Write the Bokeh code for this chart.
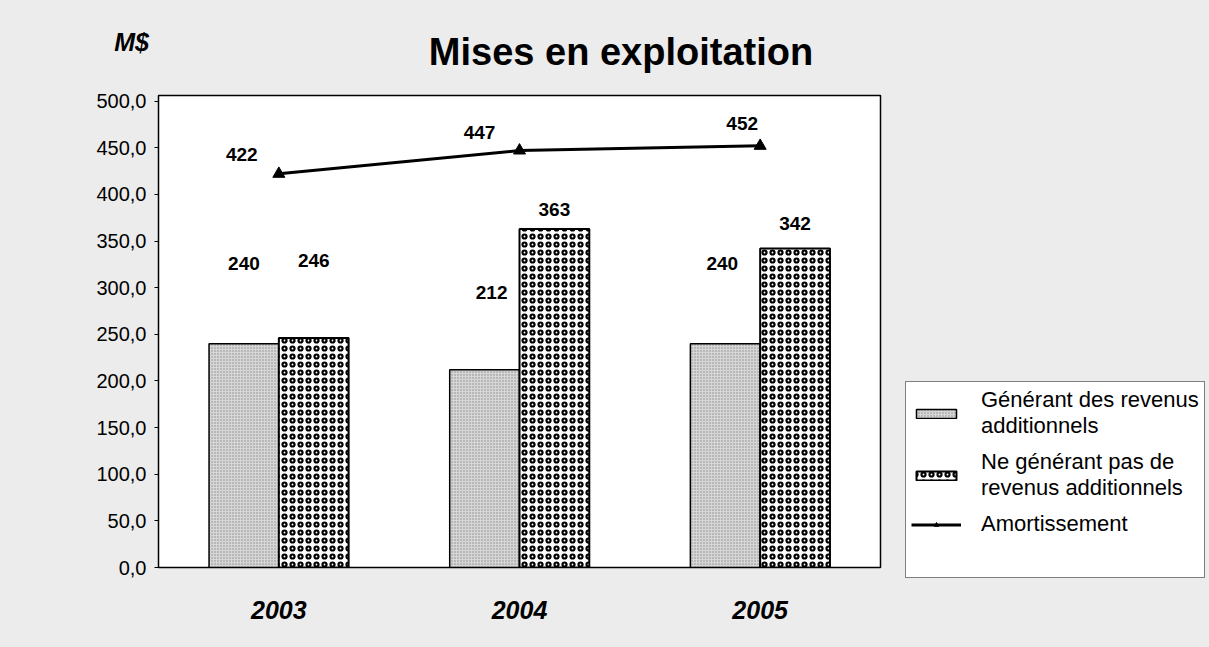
from bokeh.plotting import figure
from bokeh.layouts import column
from bokeh.models import (ColumnDataSource, FactorRange, Range1d, FixedTicker,
                          Legend, LegendItem, Div)
from bokeh.core.properties import value
from bokeh.transform import dodge
from bokeh.embed import file_html
from bokeh.resources import INLINE

# ---------------- data ----------------
years = ["2003", "2004", "2005"]
generant = [240, 212, 240]
non_generant = [246, 363, 342]
amortissement = [422, 447, 452]
y_ticks = [0, 50, 100, 150, 200, 250, 300, 350, 400, 450, 500]
y_tick_labels = ["0,0", "50,0", "100,0", "150,0", "200,0", "250,0",
                 "300,0", "350,0", "400,0", "450,0", "500,0"]
series_names = ["Générant des revenus\nadditionnels",
                "Ne générant pas de\nrevenus additionnels",
                "Amortissement"]
title_text = "Mises en exploitation"
unit_text = "M$"

# ---------------- styles ----------------
FONT = "Liberation Sans"
BG = "#ececec"
W = 1209
TOP_H = 88
gen_label_dy = [-80, -77, -80]
gen_label_dx = [0, 7, -3]
non_label_dy = [-78, -19, -25]
amo_label_dx = [-37, -40, -18]
amo_label_dy = [-19, -18, -22]

# ---------------- header (title + unit) ----------------
ff = "font-family:'Liberation Sans',Arial,sans-serif;color:black;line-height:1;white-space:nowrap;position:absolute;"
header_html = (
    f'<div style="position:relative;width:{W}px;height:{TOP_H + 2}px;background:{BG};overflow:hidden;margin:0;padding:0;">'
    f'<span style="{ff}left:621px;top:52px;transform:translate(-50%,-50%);'
    f'font-weight:bold;font-size:38px;">{title_text}</span>'
    f'<span style="{ff}right:{W - 149}px;top:42px;transform:translateY(-50%);'
    f'font-weight:bold;font-style:italic;font-size:25px;">{unit_text}</span>'
    '</div>'
)
header = Div(text=header_html, width=W, height=TOP_H, margin=0,
             styles={"background-color": BG})

# ---------------- main chart ----------------
src = ColumnDataSource(dict(
    years=years, gen=generant, non=non_generant, amo=amortissement,
    gen_lbl=[str(v) for v in generant],
    non_lbl=[str(v) for v in non_generant],
    amo_lbl=[str(v) for v in amortissement],
    gen_dy=gen_label_dy, gen_dx=gen_label_dx, non_dy=non_label_dy,
    amo_dx=amo_label_dx, amo_dy=amo_label_dy,
))

p = figure(x_range=FactorRange(*years), y_range=Range1d(0, 506),
           frame_width=722, frame_height=472,
           min_border_left=158, min_border_right=W - 158 - 722,
           min_border_top=95 - TOP_H, min_border_bottom=80,
           output_backend="svg", toolbar_location=None, title=None)

p.border_fill_color = BG
p.background_fill_color = "white"
p.outline_line_color = "black"
p.outline_line_width = 1.5
p.xgrid.visible = False
p.ygrid.visible = False

bw = 0.29
r_gen = p.vbar(x=dodge("years", -bw / 2, range=p.x_range), top="gen", width=bw,
               source=src, fill_color="#d6d6d6", line_color="black", line_width=1.5,
               hatch_pattern="dot", hatch_color="#8c8c8c", hatch_scale=3,
               hatch_weight=1)
r_non = p.vbar(x=dodge("years", bw / 2, range=p.x_range), top="non", width=bw,
               source=src, fill_color="white", line_color="black", line_width=2,
               hatch_pattern="ring", hatch_color="black", hatch_scale=8,
               hatch_weight=2.2)
r_line = p.line(x="years", y="amo", source=src, line_color="black", line_width=3)
r_mark = p.scatter(x="years", y="amo", source=src, marker="triangle", size=12,
                   fill_color="black", line_color="black")

lbl_kw = dict(text_font=value(FONT), text_font_style="bold",
              text_font_size="19px", text_color="black",
              text_align="center", text_baseline="middle")
p.text(x=dodge("years", -bw / 2, range=p.x_range), y="gen", text="gen_lbl",
       x_offset="gen_dx", y_offset="gen_dy", source=src, **lbl_kw)
p.text(x=dodge("years", bw / 2, range=p.x_range), y="non", text="non_lbl",
       y_offset="non_dy", source=src, **lbl_kw)
p.text(x="years", y="amo", text="amo_lbl", x_offset="amo_dx",
       y_offset="amo_dy", source=src, **lbl_kw)

# axes
p.yaxis.ticker = FixedTicker(ticks=y_ticks)
p.yaxis.major_label_overrides = {t: s for t, s in zip(y_ticks, y_tick_labels)}
p.yaxis.major_label_text_font = FONT
p.yaxis.major_label_text_font_size = "20px"
p.yaxis.major_label_text_color = "black"
p.yaxis.major_tick_in = 0
p.yaxis.major_tick_out = 4
p.yaxis.minor_tick_line_color = None
p.yaxis.axis_line_color = "black"
p.yaxis.major_label_standoff = 8

p.xaxis.major_label_text_font = FONT
p.xaxis.major_label_text_font_size = "25px"
p.xaxis.major_label_text_font_style = "bold italic"
p.xaxis.major_label_text_color = "black"
p.xaxis.major_tick_line_color = None
p.xaxis.axis_line_color = "black"
p.xaxis.major_label_standoff = 27

legend = Legend(items=[
    LegendItem(label=series_names[0], renderers=[r_gen]),
    LegendItem(label=series_names[1], renderers=[r_non]),
    LegendItem(label=series_names[2], renderers=[r_line, r_mark]),
], location=(25, -11))
legend.label_text_font = FONT
legend.label_text_font_size = "22px"
legend.label_text_color = "black"
legend.border_line_color = "black"
legend.border_line_width = 1
legend.background_fill_color = "white"
legend.background_fill_alpha = 1
legend.glyph_width = 50
legend.glyph_height = 11
legend.label_standoff = 20
legend.spacing = 10
legend.padding = 5
legend.margin = 0
legend.title = " "
legend.title_location = "below"
legend.title_text_font_size = "20px"
legend.title_standoff = 12
p.add_layout(legend, "right")

layout = column(header, p, spacing=0, styles={"background-color": BG})
open("out.html", "w").write(file_html(layout, INLINE))
